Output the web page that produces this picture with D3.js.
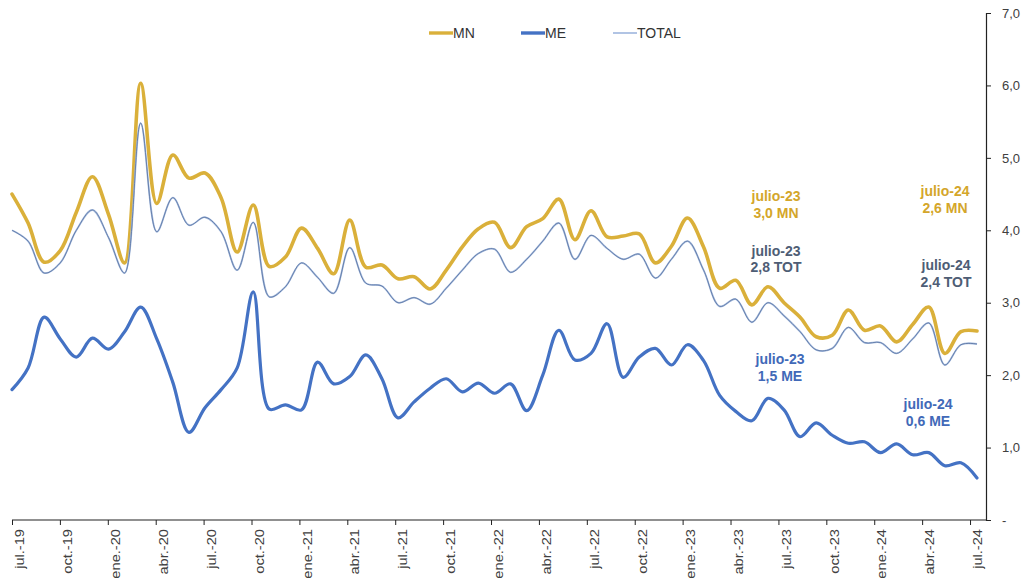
<!DOCTYPE html>
<html>
<head>
<meta charset="utf-8">
<script src="https://cdn.jsdelivr.net/npm/d3@7"></script>
<style>
  html, body { margin: 0; padding: 0; background: #fff; }
  svg { display: block; }
  text { font-family: "Liberation Sans", Arial, sans-serif; }
</style>
</head>
<body>
<svg id="chart" width="1021" height="583"></svg>
<script>
// ---------- DATA ----------
const months = ["jul.-19","ago.-19","sep.-19","oct.-19","nov.-19","dic.-19",
  "ene.-20","feb.-20","mar.-20","abr.-20","may.-20","jun.-20","jul.-20","ago.-20","sep.-20","oct.-20","nov.-20","dic.-20",
  "ene.-21","feb.-21","mar.-21","abr.-21","may.-21","jun.-21","jul.-21","ago.-21","sep.-21","oct.-21","nov.-21","dic.-21",
  "ene.-22","feb.-22","mar.-22","abr.-22","may.-22","jun.-22","jul.-22","ago.-22","sep.-22","oct.-22","nov.-22","dic.-22",
  "ene.-23","feb.-23","mar.-23","abr.-23","may.-23","jun.-23","jul.-23","ago.-23","sep.-23","oct.-23","nov.-23","dic.-23",
  "ene.-24","feb.-24","mar.-24","abr.-24","may.-24","jun.-24","jul.-24"];

const mnValues = [4.50,4.10,3.56,3.72,4.25,4.74,4.22,3.55,6.03,4.37,5.04,4.72,4.79,4.45,3.70,4.35,3.50,3.63,4.03,3.75,
  3.40,4.14,3.49,3.52,3.33,3.36,3.19,3.45,3.77,4.02,4.11,3.76,4.05,4.16,4.43,3.87,4.27,3.91,3.92,3.95,
  3.55,3.78,4.17,3.77,3.20,3.31,2.97,3.22,3.00,2.80,2.53,2.55,2.90,2.62,2.68,2.46,2.70,2.94,2.30,2.60,2.61];

const meValues = [1.80,2.10,2.80,2.50,2.25,2.51,2.36,2.60,2.94,2.50,1.90,1.21,1.55,1.80,2.10,3.15,1.53,1.59,1.52,2.18,
  1.88,1.98,2.28,1.95,1.41,1.63,1.82,1.95,1.77,1.89,1.75,1.88,1.51,2.00,2.62,2.21,2.30,2.71,1.97,2.25,
  2.37,2.14,2.42,2.20,1.72,1.50,1.37,1.68,1.52,1.15,1.34,1.17,1.06,1.08,0.93,1.05,0.90,0.93,0.75,0.79,0.58];

const totValues = [4.00,3.85,3.41,3.55,4.00,4.28,3.90,3.41,5.48,3.98,4.45,4.07,4.18,3.98,3.45,4.11,3.08,3.22,3.55,3.35,
  3.13,3.76,3.27,3.23,3.00,3.07,2.98,3.20,3.45,3.68,3.74,3.42,3.60,3.85,4.10,3.60,3.93,3.75,3.60,3.67,
  3.34,3.60,3.85,3.45,2.95,3.05,2.73,3.00,2.82,2.60,2.35,2.37,2.66,2.45,2.45,2.30,2.50,2.72,2.14,2.42,2.43];

const yTickValues = [0,1,2,3,4,5,6,7];
const yTickLabels = ["-","1,0","2,0","3,0","4,0","5,0","6,0","7,0"];

const seriesNames = ["MN","ME","TOTAL"];

const annotations = [
  {lines:["julio-23","3,0 MN"],  i:48, v:4.4,  dx:-8,  color:"#D4A62A"},
  {lines:["julio-24","2,6 MN"],  i:60, v:4.47, dx:-32, color:"#D4A62A"},
  {lines:["julio-23","2,8 TOT"], i:48, v:3.65, dx:-8,  color:"#4E5D75"},
  {lines:["julio-24","2,4 TOT"], i:60, v:3.45, dx:-31, color:"#4E5D75"},
  {lines:["julio-23","1,5 ME"],  i:48, v:2.15, dx:-4,  color:"#4169B8"},
  {lines:["julio-24","0,6 ME"],  i:60, v:1.53, dx:-49, color:"#4169B8"}
];

// ---------- LAYOUT ----------
const svg = d3.select("#chart");
const plotLeft = 12, plotRight = 986, plotTop = 13, plotBottom = 520;

const xAxisScale = d3.scaleLinear().domain([0, months.length]).range([plotLeft, plotRight]);
const xData = d3.scaleLinear().domain([0, months.length - 1]).range([plotLeft, 977]);
const y = d3.scaleLinear().domain([0, 7]).range([plotBottom, plotTop]);

const colors = {MN:"#DAB03A", ME:"#4472C4", TOTAL:"#6F89B6"};

// ---------- AXES ----------
const yAxis = d3.axisRight(y).tickValues(yTickValues)
  .tickFormat((d,i) => yTickLabels[i]).tickSize(5).tickPadding(11);
const gy = svg.append("g").attr("transform", `translate(${plotRight},0)`).call(yAxis);
gy.select(".domain").attr("stroke","#222").attr("stroke-width",1.2);
gy.selectAll(".tick line").attr("stroke","#222");
gy.selectAll(".tick text").attr("fill","#404040").style("font-size","13px")
  .style("font-family","'Liberation Sans', Arial, sans-serif");

const tickIdx = d3.range(0, months.length, 3);
const xAxis = d3.axisBottom(xAxisScale).tickValues(tickIdx).tickSize(5).tickFormat("");
const gx = svg.append("g").attr("transform", `translate(0,${plotBottom})`).call(xAxis);
gx.select(".domain").attr("stroke","#222").attr("stroke-width",1.2).attr("d", `M${plotLeft},0H${plotRight}`);
gx.selectAll(".tick line").attr("stroke","#222");

svg.append("g").selectAll("text").data(tickIdx).join("text")
  .attr("transform", d => `translate(${xAxisScale(d + 0.5)},${plotBottom + 9}) rotate(-90) scale(1.22,1)`)
  .attr("text-anchor","end")
  .attr("dy","0.35em")
  .attr("fill","#404040")
  .style("font-size","12px")
  .text(d => months[d]);

// ---------- LINES ----------
const line = d3.line()
  .x((d,i) => xData(i))
  .y(d => y(d))
  .curve(d3.curveCatmullRom.alpha(0.5));

svg.append("path").datum(mnValues).attr("d", line)
  .attr("fill","none").attr("stroke",colors.MN).attr("stroke-width",3.6)
  .attr("stroke-linejoin","round").attr("stroke-linecap","round");
svg.append("path").datum(meValues).attr("d", line)
  .attr("fill","none").attr("stroke",colors.ME).attr("stroke-width",3.2)
  .attr("stroke-linejoin","round").attr("stroke-linecap","round");
svg.append("path").datum(totValues).attr("d", line)
  .attr("fill","none").attr("stroke","#A9BEE0").attr("stroke-width",1.8);
svg.append("path").datum(totValues).attr("d", line)
  .attr("fill","none").attr("stroke","#55709E").attr("stroke-width",0.8);

// ---------- LEGEND ----------
const legendItems = [
  {name:"MN", x:429, color:colors.MN, w:3.4},
  {name:"ME", x:521, color:colors.ME, w:3.4},
  {name:"TOTAL", x:613, color:"#9DB5DE", w:1.6}
];
const lg = svg.append("g").selectAll("g").data(legendItems).join("g")
  .attr("transform", d => `translate(${d.x},33)`);
lg.append("line").attr("x1",0).attr("x2",24).attr("y1",0).attr("y2",0)
  .attr("stroke", d => d.color).attr("stroke-width", d => d.w);
lg.append("text").attr("x",24).attr("dy","0.36em").attr("fill","#333")
  .style("font-size","14px").text(d => d.name);

// ---------- ANNOTATIONS ----------
const ag = svg.append("g").selectAll("text").data(annotations).join("text")
  .attr("text-anchor","middle")
  .attr("fill", d => d.color)
  .style("font-size","14px").style("font-weight","bold")
  .attr("transform", d => `translate(${xData(d.i) + d.dx},${y(d.v)})`);
ag.selectAll("tspan").data(d => d.lines).join("tspan")
  .attr("x",0).attr("dy",(d,i) => i === 0 ? 0 : 16.5)
  .text(d => d);
</script>
</body>
</html>
